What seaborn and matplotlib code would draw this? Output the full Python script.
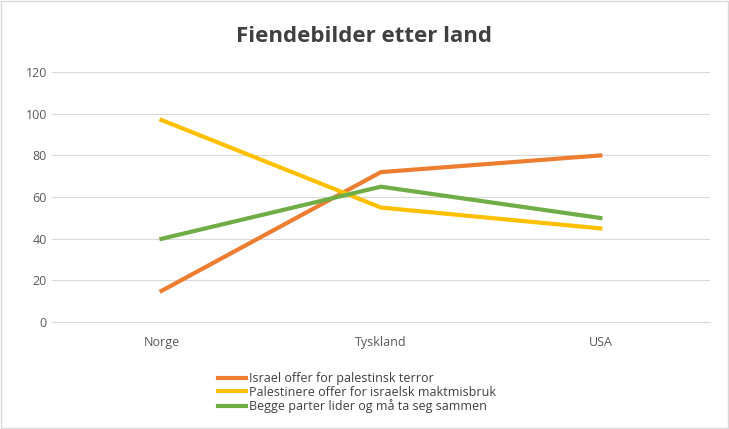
import pandas as pd
import seaborn as sns
import matplotlib.pyplot as plt

countries = ["Norge", "Tyskland", "USA"]
israel = [15, 72, 80]
palestine = [97, 55, 45]
both = [40, 65, 50]
series_names = [
    "Israel offer for palestinsk terror",
    "Palestinere offer for israelsk maktmisbruk",
    "Begge parter lider og må ta seg sammen",
]

rows = []
for name, vals in zip(series_names, [israel, palestine, both]):
    for c, v in zip(countries, vals):
        rows.append({"land": c, "verdi": v, "serie": name})
df = pd.DataFrame(rows)

plt.rcParams["font.family"] = "Open Sans"
fig = plt.figure(figsize=(7.29, 4.29), dpi=100)
ax = fig.add_axes([0.071, 0.249, 0.903, 0.583])

palette = ["#ED7D31", "#FFC000", "#70AD47"]
sns.lineplot(data=df, x="land", y="verdi", hue="serie", palette=palette,
             linewidth=3, ax=ax, sort=False)

ax.set_xlim(-0.5, 2.5)
ax.set_ylim(0, 120)
ax.set_yticks(range(0, 121, 20))
ax.grid(axis="y", color="#D9D9D9", linewidth=0.8)
ax.set_axisbelow(True)
for s in ["top", "right", "left"]:
    ax.spines[s].set_visible(False)
ax.spines["bottom"].set_color("#D9D9D9")
ax.tick_params(length=0, colors="#595959", labelsize=9)
ax.tick_params(axis="x", pad=10)
ax.set_xlabel("")
ax.set_ylabel("")

fig.suptitle("Fiendebilder etter land", y=0.94, fontsize=16, fontweight="bold",
             color="#404040")

ax.legend(loc="upper left", bbox_to_anchor=(0.245, -0.18), frameon=False,
          fontsize=9, handlelength=2.2, labelspacing=0.05, borderaxespad=0,
          handletextpad=0.3, labelcolor="#404040")

fig.patches.append(plt.Rectangle((0.002, 0.002), 0.996, 0.996, transform=fig.transFigure,
                                 fill=False, edgecolor="#D9D9D9", linewidth=1))
fig.savefig("out.png", dpi=100)
